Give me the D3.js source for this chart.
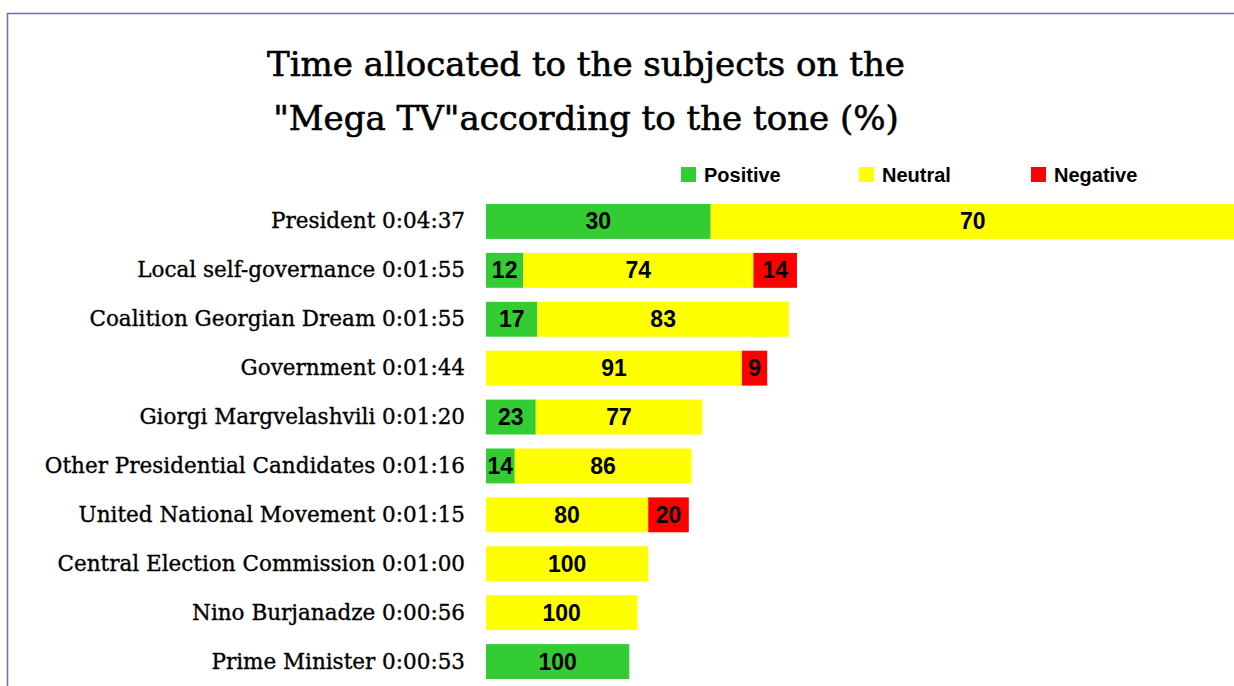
<!DOCTYPE html>
<html>
<head>
<meta charset="utf-8">
<script src="https://cdn.jsdelivr.net/npm/d3@7"></script>
<style>
  body { margin: 0; background: #fff; }
  svg { display: block; }
</style>
</head>
<body>
<div id="chart"></div>
<script>
// subjects, airtime label, airtime in seconds (bar length), tone shares (%)
var subjects = ['President', 'Local self-governance', 'Coalition Georgian Dream', 'Government',
  'Giorgi Margvelashvili', 'Other Presidential Candidates', 'United National Movement',
  'Central Election Commission', 'Nino Burjanadze', 'Prime Minister'];
var times = ['0:04:37', '0:01:55', '0:01:55', '0:01:44', '0:01:20', '0:01:16', '0:01:15',
  '0:01:00', '0:00:56', '0:00:53'];
var seconds = [277, 115, 112, 104, 80, 76, 75, 60, 56, 53];
var positive = [30, 12, 17, 0, 23, 14, 0, 0, 0, 100];
var neutral = [70, 74, 83, 91, 77, 86, 80, 100, 100, 0];
var negative = [0, 14, 0, 9, 0, 0, 20, 0, 0, 0];
var tones = ['Positive', 'Neutral', 'Negative'];
var colors = ['#33cc33', '#ffff00', '#ff0000'];

var width = 1234, height = 686;
var serif = '"DejaVu Serif", serif';
var sans = '"Liberation Sans", Arial, sans-serif';

var rows = subjects.map(function(s, i) {
  return { name: s, time: times[i], sec: seconds[i], vals: [positive[i], neutral[i], negative[i]] };
});

var svg = d3.select('#chart').append('svg')
  .attr('width', width)
  .attr('height', height);

// frame
svg.append('path')
  .attr('d', 'M7.5,' + height + 'V13.5H' + width)
  .attr('fill', 'none')
  .attr('stroke', '#7070a0')
  .attr('stroke-width', 1.5);

// title
var title = svg.append('text')
  .attr('text-anchor', 'middle')
  .style('font-family', serif)
  .style('font-size', '34px')
  .attr('fill', '#000')
  .attr('stroke', '#000')
  .attr('stroke-width', 0.6);
title.append('tspan').attr('x', 586).attr('y', 76).text('Time allocated to the subjects on the');
title.append('tspan').attr('x', 586).attr('y', 130).text('"Mega TV"according to the tone (%)');

var x = d3.scaleLinear().domain([0, 277]).range([486, 1235]);
var y = d3.scaleBand().domain(subjects).range([197, 686]).paddingInner(0.286).paddingOuter(0.143);

// legend
var legendX = [681, 859, 1031];
var leg = svg.selectAll('.leg').data(tones).enter().append('g')
  .attr('transform', function(d, i) { return 'translate(' + legendX[i] + ',167)'; });
leg.append('rect')
  .attr('width', 15).attr('height', 15)
  .attr('fill', function(d, i) { return colors[i]; });
leg.append('text')
  .attr('x', 23).attr('y', 14.5)
  .style('font-family', sans)
  .style('font-weight', 'bold')
  .style('font-size', '20px')
  .text(function(d) { return d; });

// bars
var bar = svg.selectAll('.bar').data(rows).enter().append('g')
  .attr('class', 'bar')
  .attr('transform', function(d) { return 'translate(0,' + y(d.name) + ')'; });

bar.each(function(d) {
  var g = d3.select(this);
  var span = x(d.sec) - x(0);
  var cum = 0;
  d.vals.forEach(function(v, k) {
    if (!v) return;
    var x0 = x(0) + span * cum / 100;
    var w = span * v / 100;
    g.append('rect')
      .attr('x', x0)
      .attr('width', w)
      .attr('height', y.bandwidth())
      .attr('fill', colors[k]);
    g.append('text')
      .attr('x', x0 + w / 2)
      .attr('y', y.bandwidth() / 2 + 8)
      .attr('text-anchor', 'middle')
      .style('font-family', sans)
      .style('font-weight', 'bold')
      .style('font-size', '23px')
      .text(v);
    cum += v;
  });
});

// category labels
bar.append('text')
  .attr('x', 465)
  .attr('y', y.bandwidth() / 2 + 7)
  .attr('text-anchor', 'end')
  .style('font-family', serif)
  .style('font-size', '21.5px')
  .attr('stroke', '#000')
  .attr('stroke-width', 0.35)
  .text(function(d) { return d.name + ' ' + d.time; });
</script>
</body>
</html>
